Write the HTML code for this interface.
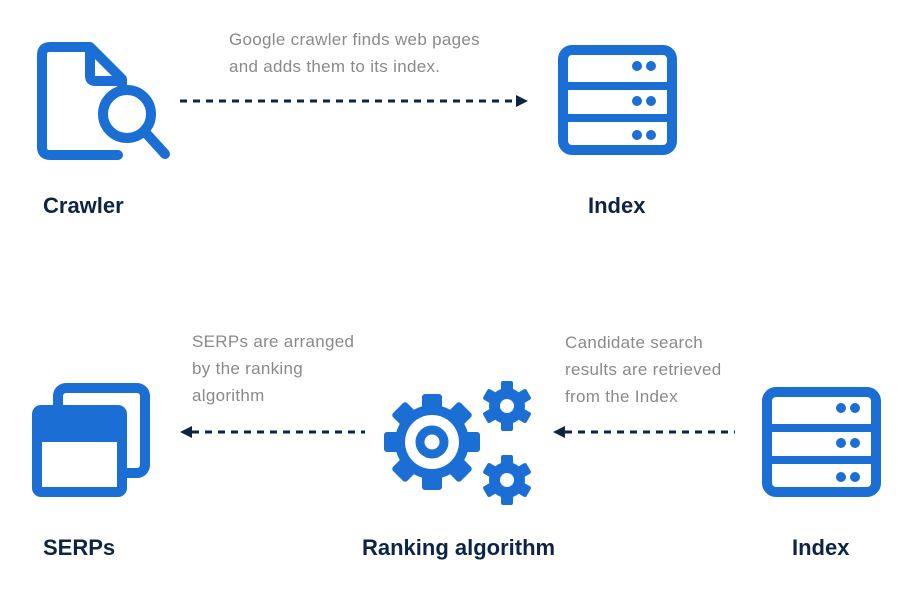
<!DOCTYPE html>
<html><head><meta charset="utf-8"><style>
html,body{margin:0;padding:0;background:#fff;}
svg{display:block}
text{font-family:"Liberation Sans",sans-serif}
.l{font-size:22px;font-weight:bold;fill:#0d2444}
.g{font-size:17px;fill:#8a8a8a;letter-spacing:0.3px}
</style></head><body>
<svg width="900" height="600" viewBox="0 0 900 600">
<defs>
<g id="idx">
 <rect x="5" y="5" width="109" height="100" rx="9" fill="none" stroke="#1b6ed3" stroke-width="10"/>
 <rect x="5" y="37" width="109" height="8" fill="#1b6ed3"/>
 <rect x="5" y="69" width="109" height="8" fill="#1b6ed3"/>
 <circle cx="79" cy="21" r="5" fill="#1b6ed3"/><circle cx="93" cy="21" r="5" fill="#1b6ed3"/>
 <circle cx="79" cy="56" r="5" fill="#1b6ed3"/><circle cx="93" cy="56" r="5" fill="#1b6ed3"/>
 <circle cx="79" cy="90" r="5" fill="#1b6ed3"/><circle cx="93" cy="90" r="5" fill="#1b6ed3"/>
</g>
<g id="sg">
 <circle r="18" fill="#1b6ed3"/>
 <g fill="#1b6ed3">
 <rect x="-6" y="-25" width="12" height="10" rx="2"/>
 <rect x="-6" y="-25" width="12" height="10" rx="2" transform="rotate(60)"/>
 <rect x="-6" y="-25" width="12" height="10" rx="2" transform="rotate(120)"/>
 <rect x="-6" y="-25" width="12" height="10" rx="2" transform="rotate(180)"/>
 <rect x="-6" y="-25" width="12" height="10" rx="2" transform="rotate(240)"/>
 <rect x="-6" y="-25" width="12" height="10" rx="2" transform="rotate(300)"/>
 </g>
 <circle r="7" fill="#fff"/>
</g>
</defs>

<!-- Crawler icon -->
<path d="M118 155 H50 Q42 155 42 147 V55 Q42 47 50 47 H90 L122 79 V86" fill="none" stroke="#1b6ed3" stroke-width="10" stroke-linejoin="round" stroke-linecap="round"/>
<path d="M90 47 V76 Q90 81 95 81 H122" fill="none" stroke="#1b6ed3" stroke-width="10" stroke-linejoin="round"/>
<circle cx="127" cy="114" r="24" fill="none" stroke="#1b6ed3" stroke-width="10"/>
<line x1="145" y1="132" x2="165" y2="154" stroke="#1b6ed3" stroke-width="10" stroke-linecap="round"/>

<!-- top arrow -->
<line x1="180" y1="101" x2="518" y2="101" stroke="#0d2444" stroke-width="3" stroke-dasharray="7 6"/>
<polygon points="516,95 528,101 516,107" fill="#0d2444"/>
<text class="g" x="229" y="45">Google crawler finds web pages</text>
<text class="g" x="229" y="72">and adds them to its index.</text>

<use href="#idx" x="558" y="45"/>
<text class="l" x="43" y="213">Crawler</text>
<text class="l" x="588" y="213">Index</text>

<!-- SERPs icon -->
<rect x="58" y="388" width="87" height="85" rx="8" fill="none" stroke="#1b6ed3" stroke-width="10"/>
<rect x="32" y="405" width="95" height="92" rx="9" fill="#1b6ed3"/>
<rect x="42" y="442" width="75" height="45" fill="#fff"/>

<!-- gears -->
<g transform="translate(432,442)">
 <g fill="#1b6ed3">
 <rect x="-10" y="-48" width="20" height="18" rx="3"/>
 <rect x="-10" y="-48" width="20" height="18" rx="3" transform="rotate(45)"/>
 <rect x="-10" y="-48" width="20" height="18" rx="3" transform="rotate(90)"/>
 <rect x="-10" y="-48" width="20" height="18" rx="3" transform="rotate(135)"/>
 <rect x="-10" y="-48" width="20" height="18" rx="3" transform="rotate(180)"/>
 <rect x="-10" y="-48" width="20" height="18" rx="3" transform="rotate(225)"/>
 <rect x="-10" y="-48" width="20" height="18" rx="3" transform="rotate(270)"/>
 <rect x="-10" y="-48" width="20" height="18" rx="3" transform="rotate(315)"/>
 <circle r="37"/>
 </g>
 <circle r="27" fill="#fff"/>
 <circle r="12" fill="none" stroke="#1b6ed3" stroke-width="9"/>
</g>
<use href="#sg" x="507" y="406"/>
<use href="#sg" x="507" y="480"/>

<!-- bottom arrows -->
<line x1="192" y1="432" x2="365" y2="432" stroke="#0d2444" stroke-width="3" stroke-dasharray="7 6"/>
<polygon points="192,426 180,432 192,438" fill="#0d2444"/>
<line x1="565" y1="432" x2="735" y2="432" stroke="#0d2444" stroke-width="3" stroke-dasharray="7 6"/>
<polygon points="565,426 553,432 565,438" fill="#0d2444"/>

<text class="g" x="192" y="347">SERPs are arranged</text>
<text class="g" x="192" y="374">by the ranking</text>
<text class="g" x="192" y="401">algorithm</text>
<text class="g" x="565" y="348">Candidate search</text>
<text class="g" x="565" y="375">results are retrieved</text>
<text class="g" x="565" y="402">from the Index</text>

<use href="#idx" x="762" y="387"/>

<text class="l" x="43" y="555">SERPs</text>
<text class="l" x="362" y="555">Ranking algorithm</text>
<text class="l" x="792" y="555">Index</text>
</svg>
</body></html>
